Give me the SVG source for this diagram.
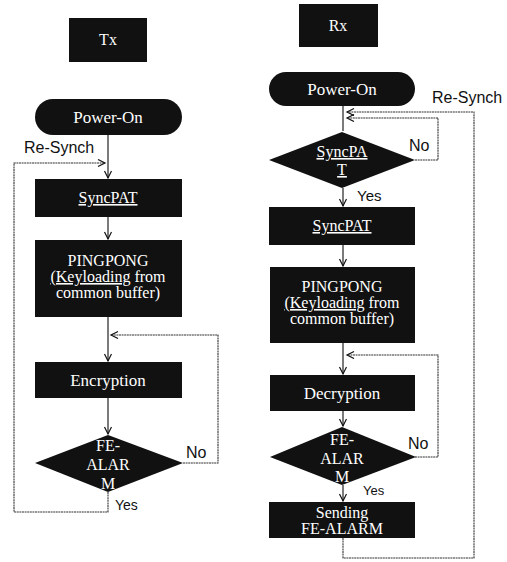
<svg xmlns="http://www.w3.org/2000/svg" width="507" height="562" viewBox="0 0 507 562">
<style>
.box{fill:#111;}
.bt{font-family:'Liberation Serif','DejaVu Serif','Times New Roman',serif;font-size:16px;fill:#fff;text-anchor:middle;}
.ul{text-decoration:underline;}
.lb{font-family:'Liberation Sans',Arial,sans-serif;fill:#111;}
.ln{fill:none;stroke:#222;stroke-width:1.2;}
.lp{fill:none;stroke:#333;stroke-width:1.1;stroke-dasharray:2 0.6;}
</style>
<defs>
<marker id="ah" markerWidth="10" markerHeight="10" refX="8" refY="4" orient="auto" markerUnits="userSpaceOnUse">
<path d="M1,0.5 L8,4 L1,7.5" fill="none" stroke="#111" stroke-width="1.2"/>
</marker>
</defs>
<rect width="507" height="562" fill="#fff"/>

<g id="connectors">
<line class="ln" x1="108" y1="135" x2="108" y2="178" marker-end="url(#ah)"/>
<line class="ln" x1="108" y1="217" x2="108" y2="239" marker-end="url(#ah)"/>
<line class="ln" x1="108" y1="317" x2="108" y2="361" marker-end="url(#ah)"/>
<line class="ln" x1="108" y1="398" x2="108" y2="434" marker-end="url(#ah)"/>
<polyline class="lp" points="183,463 218,463 218,335 111,335" marker-end="url(#ah)"/>
<polyline class="lp" points="108,492 108,512 14,512 14,163 105,163" marker-end="url(#ah)"/>
<line class="ln" x1="343" y1="106" x2="343" y2="131"/>
<line class="ln" x1="343" y1="188" x2="343" y2="206" marker-end="url(#ah)"/>
<line class="ln" x1="343" y1="245" x2="343" y2="266" marker-end="url(#ah)"/>
<line class="ln" x1="343" y1="343" x2="343" y2="374" marker-end="url(#ah)"/>
<line class="ln" x1="343" y1="411" x2="343" y2="426" marker-end="url(#ah)"/>
<line class="ln" x1="343" y1="485" x2="343" y2="501" marker-end="url(#ah)"/>
<polyline class="lp" points="415,160 438,160 438,118 347,118" marker-end="url(#ah)"/>
<polyline class="lp" points="343,538 343,558 474,558 474,112 347,112" marker-end="url(#ah)"/>
<polyline class="lp" points="415,457 438,457 438,355 347,355" marker-end="url(#ah)"/>
</g>

<g id="tx-title"><rect class="box" x="69" y="18" width="78" height="44"/><text class="bt" font-family="Liberation Serif, serif" x="108" y="45">Tx</text></g>
<g id="tx-power"><rect class="box" x="35" y="99" width="147" height="36" rx="18"/><text class="bt" font-family="Liberation Serif, serif" x="108" y="123" style="font-size:17px">Power-On</text></g>
<g id="tx-resynch-label"><text class="lb" x="24" y="153" font-size="16">Re-Synch</text></g>
<g id="tx-syncpat"><rect class="box" x="35" y="179" width="147" height="38"/><text class="bt ul" font-family="Liberation Serif, serif" x="108" y="203">SyncPAT</text></g>
<g id="tx-pingpong" font-family="Liberation Serif, serif"><rect class="box" x="35" y="240" width="147" height="77"/>
<text class="bt" x="108" y="266">PINGPONG</text>
<text class="bt" x="108" y="282"><tspan class="ul">(Keyloading</tspan> from</text>
<text class="bt" x="108" y="298">common buffer)</text></g>
<g id="tx-encryption"><rect class="box" x="35" y="362" width="147" height="36"/><text class="bt" font-family="Liberation Serif, serif" x="108" y="386" style="font-size:17px">Encryption</text></g>
<g id="tx-fealarm" font-family="Liberation Serif, serif"><polygon class="box" points="108,435 183,463 108,492 35,463"/>
<text class="bt" x="108" y="451">FE-</text><text class="bt" x="108" y="470">ALAR</text><text class="bt" x="108" y="489">M</text></g>
<g id="tx-labels"><text class="lb" x="186" y="458" font-size="16">No</text><text class="lb" x="115" y="510" font-size="14">Yes</text></g>

<g id="rx-title"><rect class="box" x="299" y="4" width="79" height="43"/><text class="bt" font-family="Liberation Serif, serif" x="338" y="31">Rx</text></g>
<g id="rx-power"><rect class="box" x="269" y="72" width="146" height="34" rx="17"/><text class="bt" font-family="Liberation Serif, serif" x="342" y="95" style="font-size:17px">Power-On</text></g>
<g id="rx-resynch-label"><text class="lb" x="432" y="103" font-size="16">Re-Synch</text></g>
<g id="rx-syncdec" font-family="Liberation Serif, serif"><polygon class="box" points="342,132 415,160 342,188 269,160"/>
<text class="bt ul" x="342" y="157">SyncPA</text><text class="bt ul" x="342" y="175">T</text></g>
<g id="rx-syncno"><text class="lb" x="409" y="151" font-size="16">No</text><text class="lb" x="357" y="201" font-size="15">Yes</text></g>
<g id="rx-syncpat"><rect class="box" x="269" y="207" width="146" height="38"/><text class="bt ul" font-family="Liberation Serif, serif" x="342" y="231">SyncPAT</text></g>
<g id="rx-pingpong" font-family="Liberation Serif, serif"><rect class="box" x="270" y="267" width="145" height="76"/>
<text class="bt" x="342" y="292">PINGPONG</text>
<text class="bt" x="342" y="308"><tspan class="ul">(Keyloading</tspan> from</text>
<text class="bt" x="342" y="324">common buffer)</text></g>
<g id="rx-decryption"><rect class="box" x="270" y="375" width="145" height="36"/><text class="bt" font-family="Liberation Serif, serif" x="342" y="399" style="font-size:17px">Decryption</text></g>
<g id="rx-fealarm" font-family="Liberation Serif, serif"><polygon class="box" points="342,427 416,457 342,485 270,457"/>
<text class="bt" x="342" y="445">FE-</text><text class="bt" x="342" y="464">ALAR</text><text class="bt" x="342" y="482">M</text></g>
<g id="rx-labels"><text class="lb" x="408" y="449" font-size="16">No</text><text class="lb" x="363" y="495" font-size="13">Yes</text></g>
<g id="rx-sending" font-family="Liberation Serif, serif"><rect class="box" x="269" y="502" width="146" height="36"/>
<text class="bt" x="342" y="518">Sending</text><text class="bt" x="342" y="534">FE-ALARM</text></g>
</svg>
